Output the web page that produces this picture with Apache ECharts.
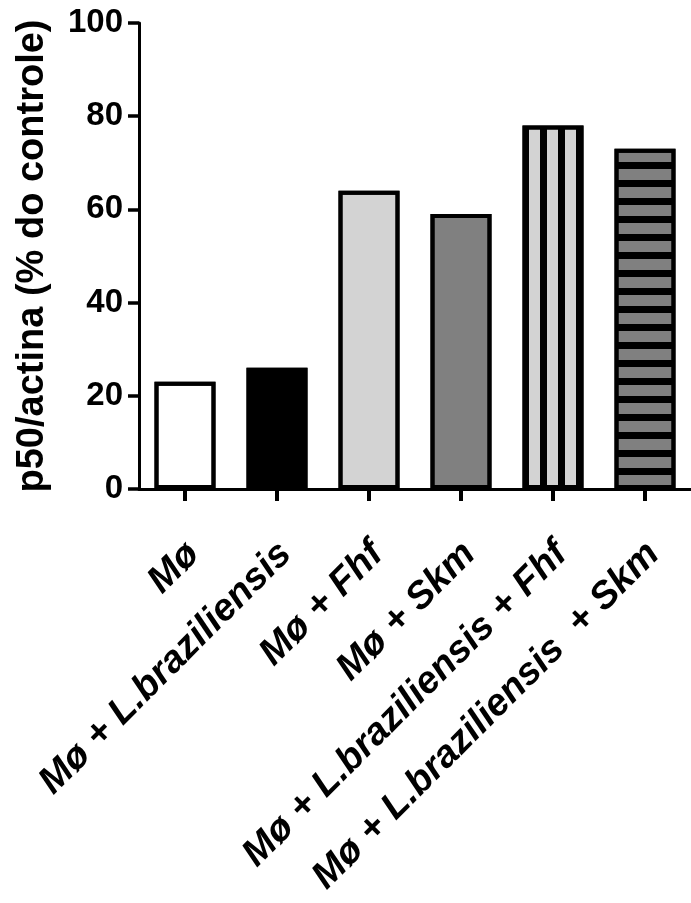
<!DOCTYPE html>
<html>
<head>
<meta charset="utf-8">
<script src="https://cdn.jsdelivr.net/npm/echarts@6/dist/echarts.min.js"></script>
<style>
  html, body { margin: 0; padding: 0; background: #ffffff; }
  #chart { width: 691px; height: 903px; }
</style>
</head>
<body>
<div id="chart"></div>
<script>
// Groups along the x axis
const categories = [
  'Mø',
  'Mø + L.braziliensis',
  'Mø + Fhf',
  'Mø + Skm',
  'Mø + L.braziliensis + Fhf',
  'Mø + L.braziliensis  + Skm'
];
// p50/actina, % of control
const values = [23, 26, 64, 59, 78, 73];
// y axis range and step
const yMin = 0;
const yMax = 100;
const yStep = 20;

// Fill of each bar and its hatch (none, vertical or horizontal stripes)
const fills = ['#ffffff', '#000000', '#d3d3d3', '#808080', '#d3d3d3', '#808080'];
const hatches = [null, null, null, null, 'vertical', 'horizontal'];

const FONT = '"Liberation Sans", Arial, Helvetica, sans-serif';

function hatchDecal(kind) {
  if (kind === 'vertical') {
    return { symbol: 'rect', symbolSize: 1, color: '#000000', dashArrayX: [7, 11], dashArrayY: [1, 0] };
  }
  if (kind === 'horizontal') {
    return { symbol: 'rect', symbolSize: 1, color: '#000000', dashArrayX: [1, 0], dashArrayY: [7, 11] };
  }
  return { symbol: 'none' };
}

const barData = values.map((v, i) => ({
  value: v,
  itemStyle: {
    color: fills[i],
    borderColor: '#000000',
    borderWidth: 4,
    decal: hatchDecal(hatches[i])
  }
}));

const chart = echarts.init(document.getElementById('chart'), null, { renderer: 'canvas' });

chart.setOption({
  animation: false,
  backgroundColor: '#ffffff',
  aria: { enabled: false, decal: { show: true } },
  grid: { left: 139, right: -9, top: 23, bottom: 414, containLabel: false },
  xAxis: {
    type: 'category',
    data: categories,
    boundaryGap: true,
    axisLine: { show: true, lineStyle: { color: '#000000', width: 3 } },
    axisTick: { show: true, alignWithLabel: true, inside: false, length: 12, lineStyle: { color: '#000000', width: 4 } },
    axisLabel: {
      interval: 0,
      rotate: 45,
      margin: 51,
      verticalAlign: 'top',
      lineHeight: 24,
      color: '#000000',
      fontFamily: FONT,
      fontSize: 38,
      fontWeight: 'bold',
      fontStyle: 'italic'
    },
    splitLine: { show: false }
  },
  yAxis: {
    type: 'value',
    min: yMin,
    max: yMax,
    interval: yStep,
    name: 'p50/actina (% do controle)',
    nameLocation: 'middle',
    nameGap: 87,
    nameTextStyle: { color: '#000000', fontFamily: FONT, fontSize: 38, fontWeight: 'bold' },
    axisLine: { show: true, lineStyle: { color: '#000000', width: 3 } },
    axisTick: { show: true, inside: false, length: 11, lineStyle: { color: '#000000', width: 3.5 } },
    axisLabel: { margin: 16, color: '#000000', fontFamily: FONT, fontSize: 33, fontWeight: 'bold' },
    splitLine: { show: false }
  },
  series: [{
    type: 'bar',
    data: barData,
    barWidth: 61,
    label: { show: false }
  }]
});
</script>
</body>
</html>
